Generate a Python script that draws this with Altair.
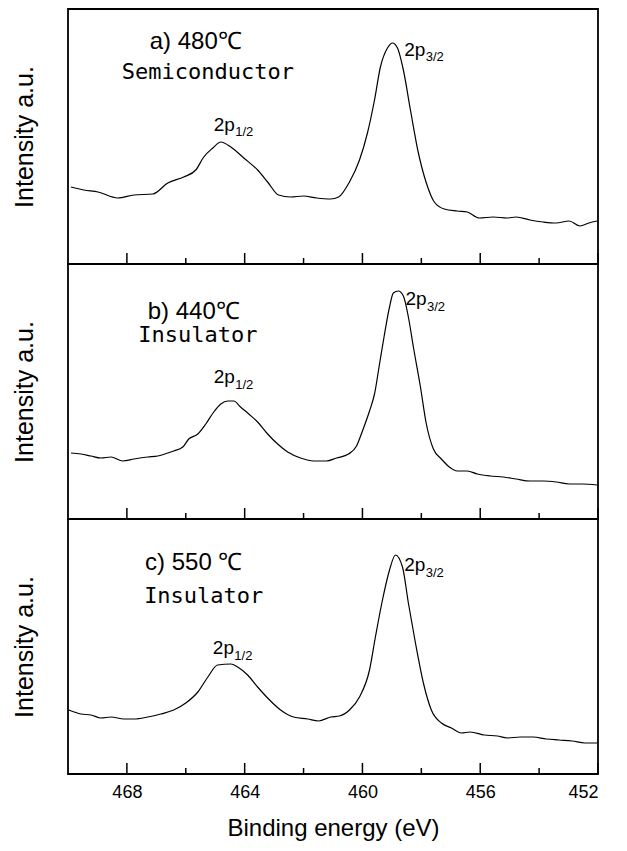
import altair as alt
import pandas as pd

# ---------------- data ----------------
# Panel a) 480 C  Semiconductor
a_ev = [469.9, 469.46, 468.98, 468.31, 467.76, 467.12, 466.61, 466.07, 465.66, 465.39,
        465.08, 464.81, 464.47, 464.03, 463.56, 463.22, 462.85, 462.44, 462.0, 461.56,
        461.08, 460.81, 460.44, 460.10, 459.83, 459.59, 459.39, 459.15, 458.98, 458.81,
        458.61, 458.37, 458.10, 457.83, 457.56, 457.22, 456.78, 456.44, 456.03, 455.56,
        455.08, 454.78, 454.31, 453.86, 453.42, 452.98, 452.61, 452.31, 452.03]
a_int = [77, 74, 72, 66, 69, 70, 81, 87, 94, 107,
         116, 122, 117, 106, 94, 82, 69, 67, 68, 66,
         65, 67, 82, 104, 131, 164, 197, 216, 221, 216,
         194, 154, 111, 81, 62, 55, 53, 52, 46, 47,
         46, 47, 44, 42, 41, 43, 38, 41, 43]

# Panel b) 440 C  Insulator
b_ev = [469.9, 469.56, 469.22, 468.88, 468.54, 468.14, 467.76, 467.29, 466.95, 466.61,
        466.41, 466.10, 465.90, 465.59, 465.32, 465.05, 464.81, 464.58, 464.37, 464.14,
        463.86, 463.56, 463.22, 462.88, 462.54, 462.10, 461.66, 461.22, 460.88, 460.47,
        460.20, 460.0, 459.76, 459.59, 459.42, 459.25, 459.08, 458.95, 458.78, 458.61,
        458.44, 458.27, 458.03, 457.83, 457.59, 457.32, 457.05, 456.78, 456.44, 456.10,
        455.66, 455.22, 454.78, 454.31, 453.86, 453.42, 452.98, 452.54, 452.03]
b_int = [66, 65, 63, 61, 62, 58, 60, 62, 63, 66,
         68, 72, 80, 85, 95, 107, 115, 118, 118, 112,
         105, 97, 85, 75, 67, 61, 58, 58, 61, 65,
         73, 88, 108, 125, 155, 185, 212, 226, 228, 223,
         202, 172, 132, 95, 70, 60, 52, 48, 48, 45,
         43, 42, 40, 38, 38, 37, 35, 35, 34]

# Panel c) 550 C  Insulator
c_ev = [469.97, 469.56, 469.22, 468.88, 468.54, 468.10, 467.76, 467.29, 466.85, 466.41,
        466.0, 465.59, 465.25, 464.92, 464.47, 464.24, 463.90, 463.56, 463.22, 462.78,
        462.34, 461.86, 461.49, 461.08, 460.78, 460.44, 460.10, 459.76, 459.56, 459.32,
        459.08, 458.88, 458.64, 458.44, 458.20, 457.93, 457.66, 457.32, 456.98, 456.64,
        456.34, 455.86, 455.42, 455.08, 454.64, 454.20, 453.76, 453.32, 452.88, 452.44,
        452.03]
c_int = [64, 60, 59, 56, 57, 55, 55, 57, 60, 64,
         71, 82, 97, 109, 110, 107, 99, 87, 76, 64,
         57, 55, 53, 57, 58, 64, 77, 104, 137, 174,
         204, 219, 207, 171, 131, 91, 64, 51, 46, 41,
         42, 39, 38, 36, 37, 37, 35, 34, 33, 31,
         31]

major_ticks = [468, 464, 460, 456, 452]
minor_ticks = [466, 462, 458, 454]

# panel labels
cond_text = ["a) 480℃", "b) 440℃", "c) 550 ℃"]
cond_x = [465.66, 465.73, 465.73]
cond_y = [222, 207, 211]
phase_text = ["Semiconductor", "Insulator", "Insulator"]
phase_x = [465.25, 465.59, 465.39]
phase_y = [192, 184, 178]

# peak labels: [2p1/2, 2p3/2] per panel
peak_main = ["2p", "2p"]
peak_sub = ["1/2", "3/2"]
peak_x = [[465.05, 458.58], [465.05, 458.54], [465.08, 458.58]]
peak_y = [[139, 214], [142, 220], [126, 209]]
sub_x = [[464.32, 457.85], [464.32, 457.81], [464.35, 457.85]]
sub_y = [[132, 207], [134, 212], [118, 201]]

# ---------------- chart ----------------
W, H = 530, 255
FONT = "Liberation Sans"
xs = alt.Scale(domain=[452, 470], reverse=True, nice=False, zero=False)
ys = alt.Scale(domain=[0, H], nice=False, zero=False)


def panel(i, ev, inten, bottom):
    df = pd.DataFrame({"ev": ev, "int": inten})
    if bottom:
        x_axis = alt.Axis(orient="bottom", values=major_ticks, format="d", ticks=False,
                          tickSize=0, domain=False, grid=False, labelFont=FONT,
                          labelFontSize=18, labelColor="black", labelPadding=9,
                          title="Binding energy (eV)", titleFont=FONT, titleFontSize=24,
                          titleFontWeight="normal", titleColor="black", titlePadding=15)
    else:
        x_axis = None
    y_axis = alt.Axis(title="Intensity a.u.", labels=False, ticks=False, domain=False,
                      grid=False, titleFont=FONT, titleFontSize=25,
                      titleFontWeight="normal", titleColor="black", titlePadding=31)

    def X(f):
        return alt.X(f, type="quantitative", scale=xs, axis=x_axis)

    def Y(f):
        return alt.Y(f, type="quantitative", scale=ys, axis=y_axis)

    line = alt.Chart(df).mark_line(color="black", strokeWidth=1.2,
                                   interpolate="monotone").encode(x=X("ev"), y=Y("int"))
    major = alt.Chart(pd.DataFrame({"t": major_ticks})).mark_rule(
        color="black", strokeWidth=1.5).encode(
        x=X("t"), y=alt.value(H), y2=alt.value(H - 11))
    minor = alt.Chart(pd.DataFrame({"t": minor_ticks})).mark_rule(
        color="black", strokeWidth=1.5).encode(
        x=X("t"), y=alt.value(H), y2=alt.value(H - 6))

    cond = alt.Chart(pd.DataFrame({"x": [cond_x[i]], "y": [cond_y[i]], "t": [cond_text[i]]})
                     ).mark_text(font=FONT, fontSize=24, color="black", align="center",
                                 baseline="middle").encode(x=X("x"), y=Y("y"), text="t:N")
    phase = alt.Chart(pd.DataFrame({"x": [phase_x[i]], "y": [phase_y[i]], "t": [phase_text[i]]})
                      ).mark_text(font="DejaVu Sans Mono", fontSize=22, color="black",
                                  align="center", baseline="middle").encode(
        x=X("x"), y=Y("y"), text="t:N")
    pk = alt.Chart(pd.DataFrame({"x": peak_x[i], "y": peak_y[i], "t": peak_main})
                   ).mark_text(font=FONT, fontSize=19, color="black", align="left",
                               baseline="middle").encode(x=X("x"), y=Y("y"), text="t:N")
    sb = alt.Chart(pd.DataFrame({"x": sub_x[i], "y": sub_y[i], "t": peak_sub})
                   ).mark_text(font=FONT, fontSize=13, color="black", align="left",
                               baseline="middle").encode(x=X("x"), y=Y("y"), text="t:N")
    return alt.layer(line, major, minor, cond, phase, pk, sb).properties(width=W, height=H)


chart = alt.vconcat(
    panel(0, a_ev, a_int, False),
    panel(1, b_ev, b_int, False),
    panel(2, c_ev, c_int, True),
    spacing=0, bounds="flush",
).properties(
    padding={"left": 3, "top": 0, "right": 5, "bottom": 5}
).configure(
    font=FONT
).configure_view(
    stroke="black", strokeWidth=1.8
)

chart.save("out.html", embed_options={"renderer": "svg", "actions": False})
